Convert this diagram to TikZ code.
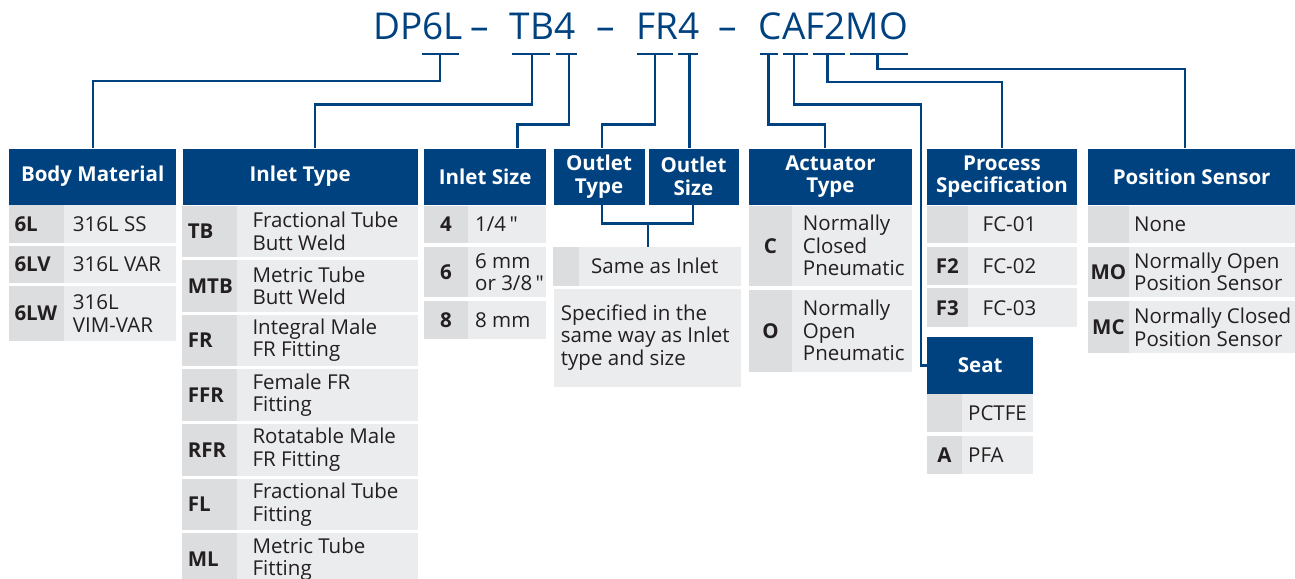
\documentclass[tikz,border=0pt]{standalone}
\usepackage{fontspec}
\setmainfont{Open Sans}
\newfontfamily\plainq{Open Sans}
\definecolor{hblue}{HTML}{00427F}
\definecolor{gA}{HTML}{DCDDDF}
\definecolor{gB}{HTML}{EBECEE}
\definecolor{tgray}{HTML}{231F20}
\newcommand\dfont{\fontsize{20.5}{22.5}\selectfont}
\newcommand\bfnt{\fontsize{20.5}{22.5}\selectfont\bfseries}
\newcommand\tfont{\fontsize{37}{40}\selectfont}
\newcommand\inch{\,{\plainq"}}
\tikzset{
  hdr/.style={fill=hblue,text=white,font=\bfnt,align=center,inner sep=0pt,anchor=north west},
  codetxt/.style={font=\bfnt,text=tgray,inner sep=0pt},
  desctxt/.style={font=\dfont,text=tgray,align=left,inner sep=0pt,anchor=west},
  conn/.style={draw=hblue,line width=2.4pt},
  tickln/.style={draw=hblue,line width=2.4pt},
  toptxt/.style={font=\tfont,text=hblue,inner sep=0pt,anchor=base west},
}
\newcommand\Hdr[6]{\node[hdr,minimum width={(#4-#2)*1pt},minimum height={(#5-#3)*1pt}] (#1) at (#2,#3) {#6};}
\newcommand\RowC[9]{%
  \fill[gA] (#2,#5) rectangle (#3,#6);
  \fill[gB] (#3,#5) rectangle (#4,#6);
  \node[codetxt] (#1c) at ({(#2+#3)/2},{(#5+#6)/2}) {#7};
  \node[desctxt] (#1d) at (#8,{(#5+#6)/2}) {#9};}
\newcommand\RowL[9]{%
  \fill[gA] (#2,#5) rectangle (#3,#6);
  \fill[gB] (#3,#5) rectangle (#4,#6);
  \node[codetxt,anchor=west] (#1c) at ({#2+5.3},{(#5+#6)/2}) {#7};
  \node[desctxt] (#1d) at (#8,{(#5+#6)/2}) {#9};}
\begin{document}
\begin{tikzpicture}[x=1pt,y=-1pt]
\useasboundingbox (0,0) rectangle (1295,578);
\clip (0,0) rectangle (1295,578);
% ---- top code ----
\node[toptxt] (cDP) at (373,40) {DP6L};
\node[toptxt] (d1) at (470.5,40) {–};
\node[toptxt] (cTB) at (509.5,40) {TB4};
\node[toptxt] (d2) at (596,40) {–};
\node[toptxt] (cFR) at (636,40) {FR4};
\node[toptxt] (d3) at (718.5,40) {–};
\node[toptxt] (cCA) at (758.5,40) {CAF2MO};
% ---- underline ticks ----
\foreach \a/\b/\n in {421.7/459.3/1,511.7/550/2,556/576.7/3,637.3/673.3/4,678.3/698.3/5,760/778.3/6,783.3/808.3/7,813.3/845/8,850/908.3/9}{
  \coordinate (ua\n) at (\a,54);
  \coordinate (ub\n) at (\b,54);
  \draw[tickln] (ua\n) -- (ub\n);
}
\coordinate (k1) at (440,54);
\coordinate (k2) at (531.7,54);
\coordinate (k3) at (569,54);
\coordinate (k4) at (655,54);
\coordinate (k5) at (689.3,54);
\coordinate (k6) at (768.3,54);
\coordinate (k7) at (794,54);
\coordinate (k8) at (827.3,54);
\coordinate (k9) at (877.3,54);
% ---- headers ----
\Hdr{hBody}{9}{148.3}{176}{204.3}{Body Material}
\Hdr{hInT}{182.3}{148.3}{417.7}{204.3}{Inlet Type}
\Hdr{hInS}{424}{148.3}{546}{204.3}{Inlet Size}
\Hdr{hOT}{553.3}{148.3}{644.3}{204.3}{Outlet\\Type}
\Hdr{hOS}{648.3}{148.3}{738.3}{204.3}{Outlet\\Size}
\Hdr{hAct}{748.8}{148.3}{911.7}{204.3}{Actuator\\Type}
\Hdr{hProc}{927}{148.3}{1076.5}{204.3}{Process\\Specification}
\Hdr{hPos}{1088}{148.3}{1295}{204.3}{Position Sensor}
\Hdr{hSeat}{927}{336.7}{1033}{394}{Seat}
% ---- connectors ----
\draw[conn] (k1) -- ++(0,27) -| (hBody.north);
\draw[conn] (k2) -- ++(0,50.3) -| ([xshift=14.7pt]hInT.north);
\draw[conn] (k3) -- ++(0,70.3) -| ([xshift=32.3pt]hInS.north);
\draw[conn] (k4) -- ++(0,70.3) -| ([xshift=2.9pt]hOT.north);
\draw[conn] (k5) -- (k5 |- hOS.north);
\draw[conn] (k6) -- ++(0,70.3) -| ([xshift=-5.7pt]hAct.north);
\coordinate (s1) at (921,104.3);
\draw[conn] (k7) |- (s1) |- (hSeat.west);
\draw[conn] (k8) -- ++(0,27.7) -| (hProc.north);
\draw[conn] (k9) -- ++(0,15) -| ([xshift=-6.5pt]hPos.north);
\coordinate (jn) at (647.7,223.3);
\coordinate (jm) at (647.7,246.7);
\draw[conn] ([xshift=2.9pt]hOT.south) |- (jn) -| ([xshift=-0.6pt]hOS.south);
\draw[conn] (jn) -- (jm);
% ---- Body Material ----
\RowL{b1}{9}{64}{176}{205}{242.7}{6L}{72.7}{316L SS}
\RowL{b2}{9}{64}{176}{246}{282.7}{6LV}{72.7}{316L VAR}
\RowL{b3}{9}{64}{176}{286}{340.7}{6LW}{72.7}{316L\\VIM-VAR}
% ---- Inlet Type ----
\RowL{i1}{182.3}{236.7}{417.7}{205.7}{256.7}{TB}{252.3}{Fractional Tube\\Butt Weld}
\RowL{i2}{182.3}{236.7}{417.7}{260}{311.7}{MTB}{252.3}{Metric Tube\\Butt Weld}
\RowL{i3}{182.3}{236.7}{417.7}{314.7}{366}{FR}{252.3}{Integral Male\\FR Fitting}
\RowL{i4}{182.3}{236.7}{417.7}{369.3}{420.7}{FFR}{252.3}{Female FR\\Fitting}
\RowL{i5}{182.3}{236.7}{417.7}{424}{475.7}{RFR}{252.3}{Rotatable Male\\FR Fitting}
\RowL{i6}{182.3}{236.7}{417.7}{479}{530}{FL}{252.3}{Fractional Tube\\Fitting}
\RowL{i7}{182.3}{236.7}{417.7}{533.3}{585}{ML}{252.3}{Metric Tube\\Fitting}
% ---- Inlet Size ----
\RowC{s1r}{424}{467.7}{546}{205.7}{242.7}{4}{475}{1/4\inch}
\RowC{s2r}{424}{467.7}{546}{246.7}{297.3}{6}{475}{6 mm\\or 3/8\inch}
\RowC{s3r}{424}{467.7}{546}{301.3}{339.3}{8}{475}{8 mm}
% ---- Outlet ----
\RowC{o1}{553.3}{579}{740.7}{246.7}{285.7}{}{591}{Same as Inlet}
\fill[gB] (554,289) rectangle (740.7,386.7);
\node[desctxt] (o2d) at (560.7,337.5) {Specified in the\\same way as Inlet\\type and size};
% ---- Actuator ----
\RowC{a1}{748.8}{792}{911.7}{205.7}{285.7}{C}{802.7}{Normally\\Closed\\Pneumatic}
\RowC{a2}{748.8}{792}{911.7}{289.7}{371.7}{O}{802.7}{Normally\\Open\\Pneumatic}
% ---- Process ----
\RowC{p1}{927}{967.6}{1076.5}{205.7}{243.3}{}{982.5}{FC-01}
\RowC{p2}{927}{967.6}{1076.5}{247.3}{285}{F2}{982.5}{FC-02}
\RowC{p3}{927}{967.6}{1076.5}{288.3}{327.3}{F3}{982.5}{FC-03}
% ---- Seat ----
\RowC{e1}{927}{962}{1033}{394.3}{432.3}{}{968}{PCTFE}
\RowC{e2}{927}{962}{1033}{435.7}{474.3}{A}{968}{PFA}
% ---- Position Sensor ----
\RowC{q1}{1088}{1128.7}{1295}{205.7}{243.3}{}{1134}{None}
\RowC{q2}{1088}{1128.7}{1295}{246.7}{297.3}{MO}{1134}{Normally Open\\Position Sensor}
\RowC{q3}{1088}{1128.7}{1295}{301.3}{353.3}{MC}{1134}{Normally Closed\\Position Sensor}
\end{tikzpicture}
\end{document}
